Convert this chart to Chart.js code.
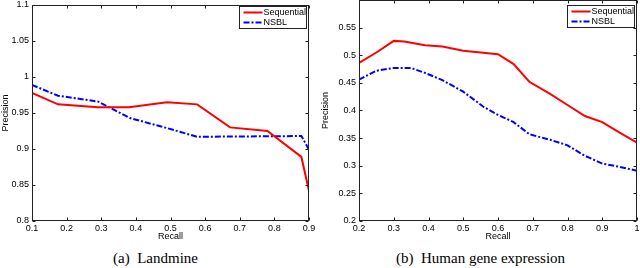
<!DOCTYPE html>
<html>
<head>
<meta charset="utf-8">
<script src="https://cdn.jsdelivr.net/npm/chart.js@4"></script>
<style>
  body { margin: 0; background: #fff; width: 640px; height: 268px; overflow: hidden; position: relative; }
  canvas { position: absolute; }
  #c1 { left: 0; top: 0; }
  #c2 { left: 320px; top: -5px; }
  .cap { position: absolute; top: 251px; font: 15px "Liberation Serif", serif; line-height: 15px; white-space: pre; color: #000; }
</style>
</head>
<body>
<canvas id="c1" width="320" height="245"></canvas>
<canvas id="c2" width="320" height="250"></canvas>
<div class="cap" style="left:113px">(a)  Landmine</div>
<div class="cap" style="left:396px">(b)  Human gene expression</div>
<script>
// (a) Landmine
const landRecallSeq = [0.1, 0.175, 0.29, 0.38, 0.49, 0.577, 0.672, 0.78, 0.878, 0.9];
const landPrecSeq   = [0.978, 0.962, 0.958, 0.958, 0.965, 0.962, 0.930, 0.925, 0.889, 0.842];
const landRecallNsbl = [0.1, 0.175, 0.29, 0.383, 0.49, 0.577, 0.878, 0.9];
const landPrecNsbl   = [0.989, 0.974, 0.966, 0.943, 0.929, 0.917, 0.918, 0.899];

// (b) Human gene expression
const geneRecallSeq = [0.2, 0.25, 0.3, 0.33, 0.39, 0.44, 0.5, 0.55, 0.6, 0.645, 0.69, 0.75, 0.8, 0.85, 0.9, 0.95, 1.0];
const genePrecSeq   = [0.486, 0.505, 0.526, 0.525, 0.518, 0.516, 0.508, 0.505, 0.502, 0.484, 0.452, 0.43, 0.41, 0.39, 0.379, 0.36, 0.342];
const geneRecallNsbl = [0.2, 0.25, 0.3, 0.35, 0.39, 0.44, 0.5, 0.56, 0.6, 0.645, 0.69, 0.75, 0.8, 0.85, 0.9, 0.95, 1.0];
const genePrecNsbl   = [0.456, 0.472, 0.477, 0.477, 0.468, 0.455, 0.434, 0.406, 0.392, 0.379, 0.357, 0.347, 0.337, 0.318, 0.304, 0.298, 0.291];

const seriesNames = ["Sequential", "NSBL"];

function pts(xs, ys) {
  return xs.map((x, i) => ({ x: x, y: ys[i] }));
}

const fmt = v => String(+Number(v).toFixed(2));

// box + inward ticks on all four sides, like matlab
const matlabAxes = {
  id: "matlabAxes",
  afterDatasetsDraw(chart) {
    const { ctx, chartArea: a, scales } = chart;
    const L = Math.round(a.left) + 0.5, R = Math.round(a.right) - 0.5;
    const T = Math.round(a.top) + 0.5, B = Math.round(a.bottom) - 0.5;
    ctx.save();
    ctx.strokeStyle = "#222";
    ctx.lineWidth = 1;
    ctx.strokeRect(L, T, R - L, B - T);
    ctx.beginPath();
    scales.x.ticks.forEach(t => {
      const px = Math.round(scales.x.getPixelForValue(t.value)) + 0.5;
      ctx.moveTo(px, B); ctx.lineTo(px, B - 3);
      ctx.moveTo(px, T); ctx.lineTo(px, T + 3);
    });
    scales.y.ticks.forEach(t => {
      const py = Math.round(scales.y.getPixelForValue(t.value)) + 0.5;
      ctx.moveTo(L, py); ctx.lineTo(L + 3, py);
      ctx.moveTo(R, py); ctx.lineTo(R - 3, py);
    });
    ctx.stroke();
    ctx.restore();
  }
};

// boxed legend in the top right corner
const boxLegend = {
  id: "boxLegend",
  afterDraw(chart, args, opts) {
    const { ctx, chartArea: a } = chart;
    const w = 67, h = 22;
    const x0 = Math.round(a.right) - 3 - w + 0.5;
    const y0 = opts.top + 0.5;
    ctx.save();
    ctx.fillStyle = "#fff";
    ctx.fillRect(x0, y0, w, h);
    ctx.strokeStyle = "#222";
    ctx.lineWidth = 1;
    ctx.strokeRect(x0, y0, w, h);
    ctx.font = "9px 'Liberation Sans', Arial, sans-serif";
    ctx.textBaseline = "middle";
    ctx.fillStyle = "#000";
    chart.data.datasets.forEach((ds, i) => {
      const yy = y0 + 6 + i * 10;
      ctx.strokeStyle = ds.borderColor;
      ctx.lineWidth = ds.borderWidth;
      ctx.setLineDash(ds.borderDash || []);
      ctx.beginPath();
      ctx.moveTo(x0 + 4, yy);
      ctx.lineTo(x0 + 23, yy);
      ctx.stroke();
      ctx.setLineDash([]);
      ctx.fillText(ds.label, x0 + 24, yy);
    });
    ctx.restore();
  }
};

function makeChart(id, seqX, seqY, nsX, nsY, xr, yr, yWidth, padRight, legendTop, hideTop) {
  const tickFont = { family: "'Liberation Sans', Arial, sans-serif", size: 9 };
  return new Chart(document.getElementById(id), {
    type: "line",
    data: {
      datasets: [
        {
          label: seriesNames[0],
          data: pts(seqX, seqY),
          borderColor: "#ff0000",
          borderWidth: 2,
          pointRadius: 0,
          tension: 0
        },
        {
          label: seriesNames[1],
          data: pts(nsX, nsY),
          borderColor: "#0000ff",
          borderWidth: 2,
          borderDash: [6, 2, 2, 2],
          pointRadius: 0,
          tension: 0
        }
      ]
    },
    options: {
      responsive: false,
      animation: false,
      layout: { padding: { left: 0, right: padRight, top: 5, bottom: 0 } },
      plugins: {
        legend: { display: false },
        tooltip: { enabled: false },
        boxLegend: { top: legendTop }
      },
      scales: {
        x: {
          type: "linear",
          min: xr[0], max: xr[1],
          grid: { display: false, drawTicks: false },
          border: { display: false },
          ticks: { stepSize: 0.1, padding: 2, color: "#000", font: tickFont, maxRotation: 0, callback: v => fmt(v) },
          title: { display: true, text: "Recall", color: "#000", font: tickFont, padding: { top: 0, bottom: 3 } },
          afterFit(s) { s.height = 24; s.paddingLeft = 0; s.paddingRight = 0; }
        },
        y: {
          type: "linear",
          min: yr[0], max: yr[1],
          grid: { display: false, drawTicks: false },
          border: { display: false },
          ticks: { stepSize: 0.05, padding: 3, color: "#000", font: tickFont,
                   callback: v => (hideTop && v >= yr[1] - 1e-9) ? "" : fmt(v) },
          title: { display: true, text: "Precision", color: "#000", font: tickFont, padding: { top: 0, bottom: 0 } },
          afterFit(s) { s.width = yWidth; s.paddingTop = 0; s.paddingBottom = 0; }
        }
      }
    },
    plugins: [matlabAxes, boxLegend]
  });
}

makeChart("c1", landRecallSeq, landPrecSeq, landRecallNsbl, landPrecNsbl, [0.1, 0.9], [0.8, 1.1], 32, 11, 6, false);
makeChart("c2", geneRecallSeq, genePrecSeq, geneRecallNsbl, genePrecNsbl, [0.2, 1.0], [0.2, 0.6], 39, 3, 10, true);
</script>
</body>
</html>
